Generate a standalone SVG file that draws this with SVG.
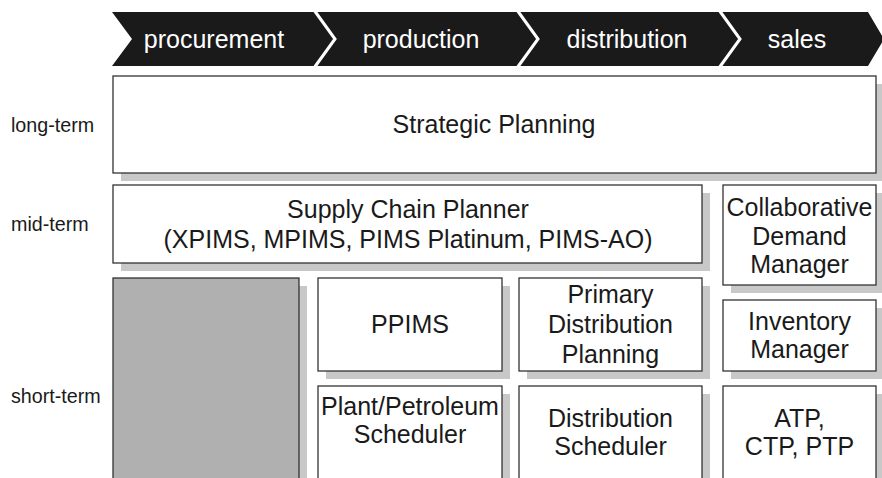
<svg xmlns="http://www.w3.org/2000/svg" width="882" height="478" viewBox="0 0 882 478">
<style>
.box{fill:#fff;stroke:#333;stroke-width:1.3}
.sh{fill:#c8c8c8}
.t{font-family:"Liberation Sans",Arial,sans-serif;font-size:25px;fill:#1a1a1a;text-anchor:middle}
.lab{font-family:"Liberation Sans",Arial,sans-serif;font-size:19.7px;fill:#1a1a1a}
.ph{font-family:"Liberation Sans",Arial,sans-serif;font-size:25px;fill:#fff;text-anchor:middle}
.sep{fill:none;stroke:#fff;stroke-width:3}
</style>
<rect width="882" height="478" fill="#fff"/>
<g id="phases">
<polygon points="112,12 868,12 884,39 868,66 112,66 132,39" fill="#1a1a1a"/>
<polyline class="sep" points="314,10 335,39 314,68"/>
<polyline class="sep" points="517,10 538,39 517,68"/>
<polyline class="sep" points="719,10 740,39 719,68"/>
<text class="ph" x="214" y="48">procurement</text>
<text class="ph" x="421" y="48">production</text>
<text class="ph" x="627" y="48">distribution</text>
<text class="ph" x="797" y="48">sales</text>
</g>
<g id="labels">
<text class="lab" x="11" y="132">long-term</text>
<text class="lab" x="11" y="231">mid-term</text>
<text class="lab" x="11" y="403">short-term</text>
</g>
<g id="strategic">
<rect class="sh" x="121" y="84" width="763" height="97"/>
<rect class="box" x="113" y="76" width="763" height="97"/>
<text class="t" x="494" y="133">Strategic Planning</text>
</g>
<g id="scp">
<rect class="sh" x="121" y="193" width="589" height="78"/>
<rect class="box" x="113" y="185" width="589" height="78"/>
<text class="t" x="408" y="218">Supply Chain Planner</text>
<text class="t" x="408" y="248">(XPIMS, MPIMS, PIMS Platinum, PIMS-AO)</text>
</g>
<g id="cdm">
<rect class="sh" x="731" y="193" width="153" height="100"/>
<rect class="box" x="723" y="185" width="153" height="100"/>
<text class="t" x="799.5" y="216">Collaborative</text>
<text class="t" x="799.5" y="245">Demand</text>
<text class="t" x="799.5" y="273">Manager</text>
</g>
<g id="empty">
<rect class="sh" x="121" y="286" width="186" height="200"/>
<rect x="113" y="278" width="186" height="210" fill="#b0b0b0" stroke="#333" stroke-width="1.3"/>
</g>
<g id="ppims">
<rect class="sh" x="326" y="286" width="184" height="93"/>
<rect class="box" x="318" y="278" width="184" height="93"/>
<text class="t" x="410" y="333">PPIMS</text>
</g>
<g id="pdp">
<rect class="sh" x="527" y="286" width="183" height="93"/>
<rect class="box" x="519" y="278" width="183" height="93"/>
<text class="t" x="610.5" y="303">Primary</text>
<text class="t" x="610.5" y="333">Distribution</text>
<text class="t" x="610.5" y="363">Planning</text>
</g>
<g id="inv">
<rect class="sh" x="731" y="308" width="153" height="71"/>
<rect class="box" x="723" y="300" width="153" height="71"/>
<text class="t" x="799.5" y="330">Inventory</text>
<text class="t" x="799.5" y="358">Manager</text>
</g>
<g id="pps">
<rect class="sh" x="326" y="394" width="184" height="100"/>
<rect class="box" x="318" y="386" width="184" height="110"/>
<text class="t" x="410" y="415">Plant/Petroleum</text>
<text class="t" x="410" y="443">Scheduler</text>
</g>
<g id="ds">
<rect class="sh" x="527" y="394" width="183" height="100"/>
<rect class="box" x="519" y="386" width="183" height="110"/>
<text class="t" x="610.5" y="427">Distribution</text>
<text class="t" x="610.5" y="455">Scheduler</text>
</g>
<g id="atp">
<rect class="sh" x="731" y="394" width="153" height="100"/>
<rect class="box" x="723" y="386" width="153" height="110"/>
<text class="t" x="799.5" y="427">ATP,</text>
<text class="t" x="799.5" y="455">CTP, PTP</text>
</g>
<g id="connectors"/>
</svg>
